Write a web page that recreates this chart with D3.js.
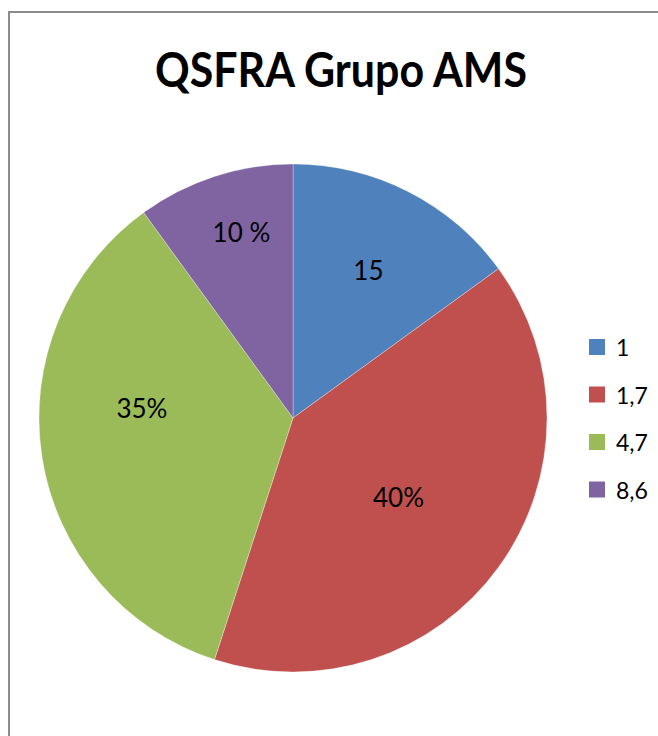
<!DOCTYPE html>
<html>
<head>
<meta charset="utf-8">
<script src="https://cdn.jsdelivr.net/npm/d3@7"></script>
<style>
html,body{margin:0;padding:0;background:#fff;}
svg{display:block;}
text{font-family:Lato,"Open Sans",sans-serif;fill:#000;}
</style>
</head>
<body>
<svg id="chart" width="658" height="736"></svg>
<script>
// ---- data ----
const title = "QSFRA Grupo AMS";
const categories = ["1", "1,7", "4,7", "8,6"];
const values = [15, 40, 35, 10];
const valueLabels = ["15", "40%", "35%", "10 %"];
const colors = ["#4F81BD", "#C0504D", "#9BBB59", "#8064A2"];

// label placement (layout config): radius fraction, angle offset in degrees
const labelRadiusFrac = [0.654, 0.518, 0.596, 0.76];
const labelAngleOffset = [0, 0.7, 12.6, 2.5];

const W = 658, H = 736;
const svg = d3.select("#chart");

// frame
svg.append("rect").attr("x", 9).attr("y", 12).attr("width", 660).attr("height", 760)
  .attr("fill", "#fff").attr("stroke", "#8c8c8c").attr("stroke-width", 2);

// title
const t = svg.append("text").attr("x", 341).attr("y", 87)
  .attr("text-anchor", "middle").style("font-weight", "bold").style("font-size", "47px")
  .text(title);
const tl = t.node().getComputedTextLength();
if (tl > 372) t.attr("textLength", 372).attr("lengthAdjust", "spacingAndGlyphs");

// pie
const cx = 293, cy = 418, R = 254;
const pie = d3.pie().sort(null).value(d => d)(values);
const arc = d3.arc().innerRadius(0).outerRadius(R);
const g = svg.append("g").attr("transform", `translate(${cx},${cy})`);
g.selectAll("path.slice").data(pie).join("path").attr("class", "slice")
  .attr("d", arc).attr("fill", (d, i) => colors[i])
  .attr("stroke", "#ffffff").attr("stroke-opacity", 0.5).attr("stroke-width", 0.6);

g.selectAll("text.lbl").data(pie).join("text").attr("class", "lbl")
  .attr("text-anchor", "middle").attr("dominant-baseline", "central")
  .style("font-size", "26px")
  .attr("transform", (d, i) => {
    const a = (d.startAngle + d.endAngle) / 2 + labelAngleOffset[i] * Math.PI / 180;
    const r = R * labelRadiusFrac[i];
    return `translate(${r * Math.sin(a)},${-r * Math.cos(a)})`;
  })
  .text((d, i) => valueLabels[i]);

// legend
const ly = d3.scaleBand().domain(categories).range([333, 523]);
const lg = svg.append("g");
const items = lg.selectAll("g").data(categories).join("g")
  .attr("transform", d => `translate(589,${ly(d)})`);
items.append("rect").attr("x", 0).attr("y", 6).attr("width", 16).attr("height", 16)
  .attr("fill", (d, i) => colors[i]);
items.append("text").attr("x", 27).attr("y", 23).style("font-size", "23px").text(d => d);
</script>
</body>
</html>
